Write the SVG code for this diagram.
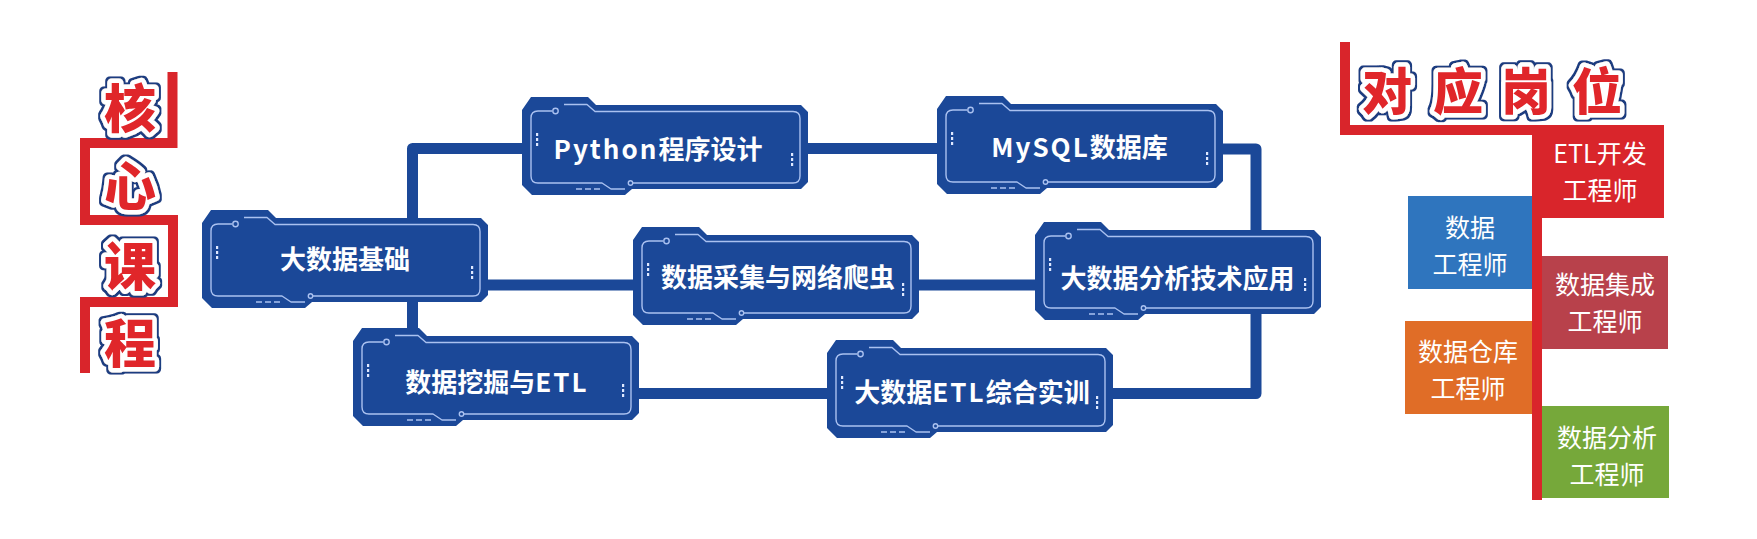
<svg xmlns="http://www.w3.org/2000/svg" xmlns:xlink="http://www.w3.org/1999/xlink" width="1757" height="539" viewBox="0 0 1757 539">
<style>
.bg{fill:#ffffff}
.frame{fill:#1b4898}
.deco{fill:none;stroke:#aac1f0;stroke-width:1.4;stroke-linejoin:round}
.dot{fill:#dfe8ff}
.ntext{font-family:"Noto Sans CJK SC","Noto Sans",sans-serif;font-weight:700;font-size:26px;fill:#ffffff;text-anchor:middle;dominant-baseline:central}
.lat{letter-spacing:2px}
.conn{fill:none;stroke:#1b4898;stroke-width:11;stroke-linejoin:round}
.redline{fill:none;stroke:#d9252b;stroke-width:10;stroke-linejoin:miter}
.title{font-family:"Noto Sans CJK SC",sans-serif;font-weight:900;fill:#e0262b;stroke:#ffffff;stroke-width:9;stroke-linejoin:round;paint-order:stroke fill;text-anchor:middle;dominant-baseline:central}
.jtext{font-family:"Noto Sans CJK SC","Noto Sans",sans-serif;font-weight:400;font-size:25px;fill:#ffffff;text-anchor:middle;dominant-baseline:central}
</style>
<defs>
<filter id="outline" x="-20%" y="-20%" width="140%" height="140%">
<feMorphology in="SourceAlpha" operator="dilate" radius="1.6" result="d"/>
<feFlood flood-color="#1f3c80"/>
<feComposite in2="d" operator="in" result="o"/>
<feMerge><feMergeNode in="o"/><feMergeNode in="SourceGraphic"/></feMerge>
</filter>
<g id="frame">
<path class="frame" d="M0 13 L9 0 L66 0 L74 8 L279 8 L286 15 L286 85 L279 92 L110 92 L103 98 L10 98 L0 88 Z"/>
<path class="deco" d="M30 14 L16 14 Q9 14 9 21 L9 79 Q9 86 16 86 L80 86 L89 92 L103 92"/>
<path class="deco" d="M42 7.5 L65 7.5 L73 14.5 L271 14.5 Q278 14.5 278 21.5 L278 79 Q278 86 271 86 L111 86"/>
<circle class="deco" cx="33.5" cy="14" r="2.7"/>
<circle class="deco" cx="108.5" cy="86" r="2.2"/>
<path class="deco" d="M54 92 H60 M63 92 H69 M72 92 H78" stroke-width="2"/>
<rect class="dot" x="14" y="36" width="2.2" height="3"/>
<rect class="dot" x="14" y="41" width="2.2" height="3"/>
<rect class="dot" x="14" y="46" width="2.2" height="3"/>
<rect class="dot" x="269" y="56" width="2.2" height="3"/>
<rect class="dot" x="269" y="61" width="2.2" height="3"/>
<rect class="dot" x="269" y="66" width="2.2" height="3"/>
</g>
</defs>
<rect class="bg" x="0" y="0" width="1757" height="539"/>

<g id="heading-core">
<path class="redline" d="M172.5 72 V143 H85 V220 H173 V302 H85 V373"/>
<text class="title" font-size="52" x="130 130 130 130" y="105 183 263 340" filter="url(#outline)">核心课程</text>
</g>

<g id="connectors">
<path class="conn" d="M412.5 330 V148.5 H524"/>
<path class="conn" d="M804 148.5 H939"/>
<path class="conn" d="M1221 149 H1256 V393.5 H1110"/>
<path class="conn" d="M485 285 H1037"/>
<path class="conn" d="M637 393.5 H829"/>
</g>

<g id="node-bigdata-basics" transform="translate(202,210)">
<use href="#frame"/>
<text class="ntext" x="143" y="47">大数据基础</text>
</g>
<g id="node-python" transform="translate(522,97)">
<use href="#frame"/>
<text class="ntext" x="136" y="50"><tspan class="lat">Python</tspan>程序设计</text>
</g>
<g id="node-mysql" transform="translate(937,96)">
<use href="#frame"/>
<text class="ntext" x="142.5" y="49"><tspan class="lat">MySQL</tspan>数据库</text>
</g>
<g id="node-crawler" transform="translate(633,227)">
<use href="#frame"/>
<text class="ntext" x="145" y="48">数据采集与网络爬虫</text>
</g>
<g id="node-analysis" transform="translate(1035,222)">
<use href="#frame"/>
<text class="ntext" x="142.5" y="54">大数据分析技术应用</text>
</g>
<g id="node-mining" transform="translate(353,328)">
<use href="#frame"/>
<text class="ntext" x="144" y="52">数据挖掘与<tspan class="lat">ETL</tspan></text>
</g>
<g id="node-etl-practice" transform="translate(827,340)">
<use href="#frame"/>
<text class="ntext" x="145" y="50">大数据<tspan class="lat">ETL</tspan>综合实训</text>
</g>

<g id="heading-jobs">
<path class="redline" d="M1345 42 V130 H1664"/>
<text class="title" font-size="50" x="1387 1458 1526 1597" y="88 88 88 88" filter="url(#outline)">对应岗位</text>
</g>

<g id="job-etl">
<rect x="1532" y="125" width="132" height="93" fill="#d9252b"/>
<text class="jtext"><tspan x="1600" y="152">ETL开发</tspan><tspan x="1600" y="188.5">工程师</tspan></text>
</g>
<rect id="red-spine" x="1532" y="125" width="10" height="375" fill="#d9252b"/>
<g id="job-data-eng">
<rect x="1408" y="196" width="124" height="93" fill="#2f75be"/>
<text class="jtext"><tspan x="1470" y="226">数据</tspan><tspan x="1470" y="262.5">工程师</tspan></text>
</g>
<g id="job-integration">
<rect x="1542" y="256" width="126" height="93" fill="#b8414b"/>
<text class="jtext"><tspan x="1605" y="283">数据集成</tspan><tspan x="1605" y="319.5">工程师</tspan></text>
</g>
<g id="job-warehouse">
<rect x="1405" y="321" width="127" height="93" fill="#e06d27"/>
<text class="jtext"><tspan x="1468" y="350">数据仓库</tspan><tspan x="1468" y="386.5">工程师</tspan></text>
</g>
<g id="job-analysis">
<rect x="1542" y="406" width="127" height="92" fill="#76a83a"/>
<text class="jtext"><tspan x="1607" y="436">数据分析</tspan><tspan x="1607" y="472.5">工程师</tspan></text>
</g>
</svg>
